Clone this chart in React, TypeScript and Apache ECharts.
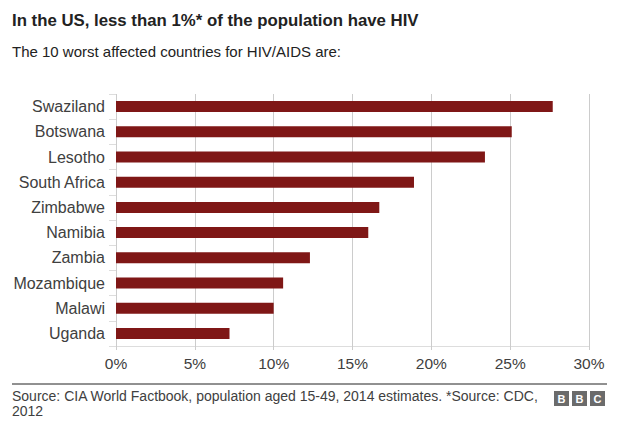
import React, { useEffect, useRef } from "react";
import * as echarts from "echarts";

const countries = [
  "Swaziland",
  "Botswana",
  "Lesotho",
  "South Africa",
  "Zimbabwe",
  "Namibia",
  "Zambia",
  "Mozambique",
  "Malawi",
  "Uganda",
];
const prevalence = [27.7, 25.1, 23.4, 18.9, 16.7, 16.0, 12.3, 10.6, 10.0, 7.2];
const xTicks = [0, 5, 10, 15, 20, 25, 30];

const FONT = '"Liberation Sans", Arial, sans-serif';

export default function App() {
  const ref = useRef<HTMLDivElement>(null);
  useEffect(() => {
    if (!ref.current) return;
    const chart = echarts.init(ref.current, null, { renderer: "svg" });
    chart.setOption({
      animation: false,
      backgroundColor: "#ffffff",
      textStyle: { fontFamily: FONT },
      grid: { left: 116, right: 34, top: 94, bottom: 83, containLabel: false },
      xAxis: {
        type: "value",
        min: xTicks[0],
        max: xTicks[xTicks.length - 1],
        interval: 5,
        axisLine: { show: true, lineStyle: { color: "#dddddd", width: 1 } },
        axisTick: { show: true, length: 4, lineStyle: { color: "#cccccc" } },
        splitLine: { show: true, lineStyle: { color: "#cccccc", width: 1 } },
        axisLabel: {
          formatter: "{value}%",
          fontSize: 15.5,
          color: "#404040",
          fontFamily: FONT,
          margin: 9,
        },
      },
      yAxis: {
        type: "category",
        inverse: true,
        data: countries,
        axisLine: { show: false },
        axisTick: { show: true, length: 7, lineStyle: { color: "#dddddd" } },
        axisLabel: {
          fontSize: 16,
          color: "#404040",
          fontFamily: FONT,
          margin: 11,
        },
      },
      series: [
        {
          type: "bar",
          data: prevalence,
          barWidth: 11,
          itemStyle: { color: "#7f1716" },
        },
      ],
      graphic: [
        {
          type: "text",
          left: 12,
          top: 12,
          style: {
            text: "In the US, less than 1%* of the population have HIV",
            font: `bold 16.8px ${FONT}`,
            fill: "#222222",
          },
        },
        {
          type: "text",
          left: 12,
          top: 44,
          style: {
            text: "The 10 worst affected countries for HIV/AIDS are:",
            font: `15px ${FONT}`,
            fill: "#222222",
          },
        },
        {
          type: "line",
          shape: { x1: 12, y1: 384, x2: 607, y2: 384 },
          style: { stroke: "#222222", lineWidth: 1 },
        },
        {
          type: "text",
          left: 12,
          top: 388,
          style: {
            text:
              "Source: CIA World Factbook, population aged 15-49, 2014 estimates. *Source: CDC,\n2012",
            font: `14px ${FONT}`,
            lineHeight: 15,
            fill: "#404040",
          },
        },
        ...["B", "B", "C"].flatMap((ch, i) => [
          {
            type: "rect",
            shape: { x: 554 + i * 18, y: 391, width: 15, height: 15 },
            style: { fill: "#6b6b6b" },
          },
          {
            type: "text",
            x: 554 + i * 18 + 7.5,
            y: 398.5,
            style: {
              text: ch,
              font: `bold 11px ${FONT}`,
              fill: "#ffffff",
              align: "center",
              verticalAlign: "middle",
            },
          },
        ]),
      ],
    });
    return () => chart.dispose();
  }, []);
  return (
    <div
      ref={ref}
      style={{ position: "absolute", left: 0, top: 0, width: 623, height: 429 }}
    />
  );
}
